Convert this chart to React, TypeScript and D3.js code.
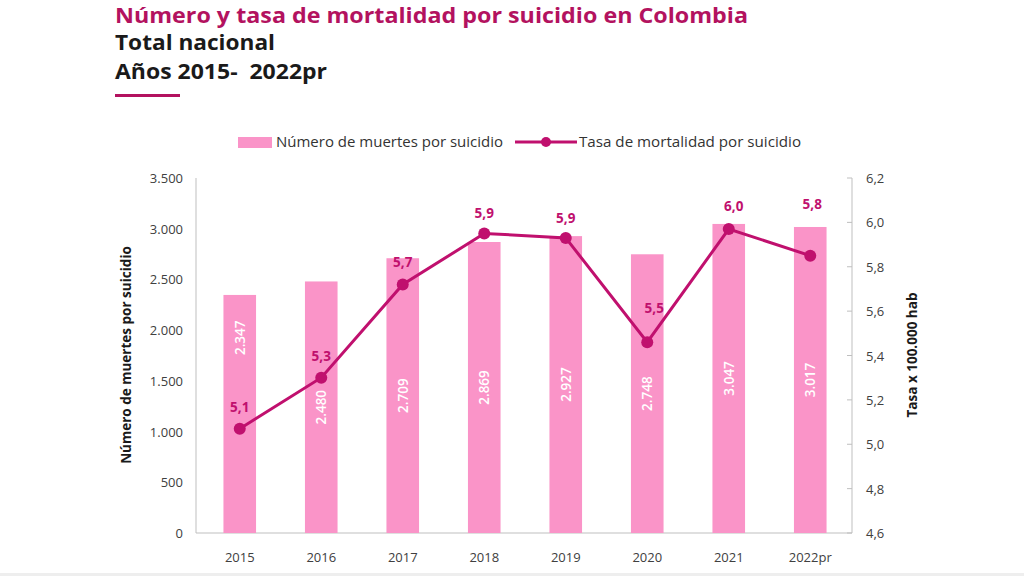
import React from "react";
import * as d3 from "d3";

const years = ["2015", "2016", "2017", "2018", "2019", "2020", "2021", "2022pr"];
const deaths = [2347, 2480, 2709, 2869, 2927, 2748, 3047, 3017];
const rates = [5.07, 5.3, 5.72, 5.95, 5.93, 5.46, 5.97, 5.85];
const rateLabels = ["5,1", "5,3", "5,7", "5,9", "5,9", "5,5", "6,0", "5,8"];
const leftTicks = [0, 500, 1000, 1500, 2000, 2500, 3000, 3500];
const rightTicks = [4.6, 4.8, 5.0, 5.2, 5.4, 5.6, 5.8, 6.0, 6.2];

// label placement styles (not data)
const barLabelFrac = [0.82, 0.5, 0.5, 0.5, 0.5, 0.5, 0.5, 0.5];
const rateLabelShift = [
  [0, -17], [0, -17], [0, -18], [0, -15], [0, -15], [7, -29], [5, -18], [2, -47],
];

const W = 1024, H = 576;
const M = { left: 196, right: 852, top: 178, bottom: 533 };
const PINK = "#FA94C8";
const MAG = "#C0106E";
const TITLE = "#B3125F";
const FONT = "'Open Sans', 'Noto Sans', sans-serif";

const fmtThousands = (v: number) => {
  const s = String(v);
  return s.length > 3 ? s.slice(0, s.length - 3) + "." + s.slice(-3) : s;
};

export default function App() {
  const x = d3.scaleBand<string>().domain(years).range([199, 851]).paddingInner(0.6).paddingOuter(0.3);
  const yL = d3.scaleLinear().domain([0, 3500]).range([M.bottom, M.top]);
  const yR = d3.scaleLinear().domain([4.6, 6.2]).range([M.bottom, M.top]);
  const cx = (d: string) => (x(d) as number) + x.bandwidth() / 2;
  const line = d3.line<number>().x((_, i) => cx(years[i])).y((d) => yR(d));

  return (
    <svg width={W} height={H} style={{ position: "absolute", left: 0, top: 0, background: "#fff" }} fontFamily={FONT}>
      {/* Title */}
      <text x={115} y={23} fill={TITLE} fontWeight={700} fontSize={21} textLength={633} lengthAdjust="spacingAndGlyphs">
        Número y tasa de mortalidad por suicidio en Colombia
      </text>
      <text x={115} y={50} fill="#1a1a1a" fontWeight={700} fontSize={22} textLength={160} lengthAdjust="spacingAndGlyphs">
        Total nacional
      </text>
      <text x={115} y={79} fill="#1a1a1a" fontWeight={700} fontSize={22} textLength={212} lengthAdjust="spacingAndGlyphs" style={{ whiteSpace: "pre" }}>
        {"Años 2015-\u00a0 2022pr"}
      </text>
      <rect x={115} y={94} width={65} height={3} fill={TITLE} />

      {/* Legend */}
      <rect x={238} y={137} width={34} height={11} fill={PINK} />
      <text x={276} y={147} fontSize={14} fill="#333" textLength={227} lengthAdjust="spacingAndGlyphs">
        Número de muertes por suicidio
      </text>
      <line x1={515} x2={577} y1={142} y2={142} stroke={MAG} strokeWidth={3} />
      <circle cx={546} cy={142} r={5} fill={MAG} />
      <text x={579} y={147} fontSize={14} fill="#333" textLength={222} lengthAdjust="spacingAndGlyphs">
        Tasa de mortalidad por suicidio
      </text>

      {/* Axes */}
      <line x1={M.left} x2={M.left} y1={M.top} y2={M.bottom} stroke="#bfbfbf" />
      <line x1={M.right} x2={M.right} y1={M.top} y2={M.bottom} stroke="#bfbfbf" />
      <line x1={M.left} x2={M.right} y1={M.bottom} y2={M.bottom} stroke="#bfbfbf" />
      {leftTicks.map((t) => (
        <text key={t} x={183} y={yL(t) + 5} textAnchor="end" fontSize={13} fill="#404040">
          {fmtThousands(t)}
        </text>
      ))}
      {rightTicks.map((t) => (
        <g key={t}>
          <line x1={M.right - 5} x2={M.right} y1={yR(t)} y2={yR(t)} stroke="#bfbfbf" />
          <text x={866} y={yR(t) + 5} fontSize={13} fill="#404040">
            {t.toFixed(1).replace(".", ",")}
          </text>
        </g>
      ))}
      {years.map((yv) => (
        <text key={yv} x={cx(yv)} y={562} textAnchor="middle" fontSize={13} fill="#404040">
          {yv}
        </text>
      ))}
      <text transform={`translate(131,355) rotate(-90)`} textAnchor="middle" fontSize={13.5} fontWeight={700} fill="#1a1a1a">
        Número de muertes por suicidio
      </text>
      <text transform={`translate(917,355) rotate(-90)`} textAnchor="middle" fontSize={13.5} fontWeight={700} fill="#1a1a1a">
        Tasa x 100.000 hab
      </text>

      {/* Bars */}
      {deaths.map((d, i) => (
        <rect key={i} x={x(years[i])} y={yL(d)} width={x.bandwidth()} height={M.bottom - yL(d)} fill={PINK} />
      ))}
      {deaths.map((d, i) => (
        <text
          key={"bl" + i}
          transform={`translate(${cx(years[i]) + 5},${yL(d * barLabelFrac[i])}) rotate(-90)`}
          textAnchor="middle"
          fontSize={13.5}
          fontWeight={600}
          fill="#fff"
        >
          {fmtThousands(d)}
        </text>
      ))}

      {/* Line */}
      <path d={line(rates) || ""} fill="none" stroke={MAG} strokeWidth={3} />
      {rates.map((r, i) => (
        <circle key={i} cx={cx(years[i])} cy={yR(r)} r={6} fill={MAG} />
      ))}
      {rates.map((r, i) => (
        <text
          key={"rl" + i}
          x={cx(years[i]) + rateLabelShift[i][0]}
          y={yR(r) + rateLabelShift[i][1]}
          textAnchor="middle"
          fontSize={13.5}
          fontWeight={700}
          fill={MAG}
        >
          {rateLabels[i]}
        </text>
      ))}

      <rect x={0} y={573} width={W} height={3} fill="#eeeeee" />
    </svg>
  );
}
